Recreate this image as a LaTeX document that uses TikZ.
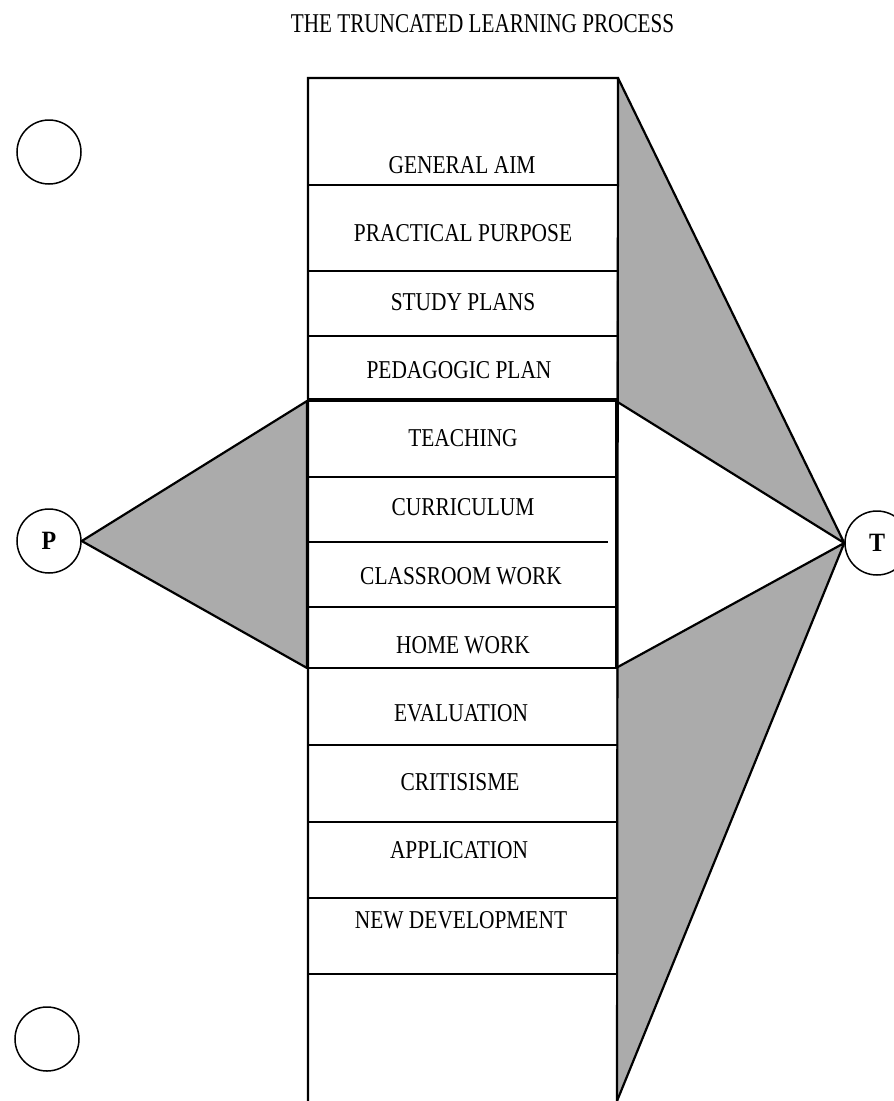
\documentclass[tikz,border=0pt]{standalone}
\usepackage{fontspec}
\setmainfont{Liberation Serif}
\usepackage{graphicx}
\newcommand{\vstr}[2]{\scalebox{1}[#1]{#2}}
\begin{document}
\begin{tikzpicture}[x=1pt,y=-1pt,
  lbl/.style={font=\fontsize{21.4}{22}\selectfont, inner sep=0pt},
  ttl/.style={font=\fontsize{21.2}{22}\selectfont, inner sep=0pt},
  rnd/.style={draw, circle, line width=1.5pt, minimum size=64pt, inner sep=0pt, font=\fontsize{24}{24}\selectfont\bfseries},
  edge/.style={line width=2.2pt},
  divider/.style={line width=1.4pt},
  shadefill/.style={fill=black!33},
  shade/.style={shadefill, draw=black, line width=2.2pt, line join=round}]
\useasboundingbox (0,0) rectangle (894,1101);

% title
\node[ttl] (title) at (482.5,24) {\vstr{1.28}{THE TRUNCATED LEARNING PROCESS}};

% circles
\node[rnd] (c1) at (49,152) {};
\node[rnd] (c2) at (47,1039) {};
\node[rnd] (P) at (49,541) {\vstr{1.1}{P}};
\node[rnd] (T) at (877,543) {\vstr{1.1}{T}};

% column corners
\coordinate (ctl) at (308,78);
\coordinate (ctr) at (618,78);
\coordinate (cbl) at (308,1101);
\coordinate (cbr) at (617,1101);
\coordinate (itl) at (307,401);
\coordinate (itr) at (616,401);
\coordinate (ibl) at (307,668);
\coordinate (ibr) at (616,668);

% shaded wedges
\path[shade] (P.east) -- (itl) -- (ibl) -- cycle;
\path[shadefill] (ctr) -- (T.west) -- (itr) -- cycle;
\path[shadefill] (ibr) -- (T.west) -- (cbr) -- cycle;
\draw[edge, line join=round] (ctr) -- (T.west) -- (itr);
\draw[edge, line join=round] (ibr) -- (T.west) -- (cbr);

% column
\draw[edge] (cbl) -- (ctl) -- (ctr) -- (cbr);
\draw[edge] (itl) rectangle (ibr);
\draw[edge] (308,399) -- (618,399);

% dividers
\foreach \yy in {185,271,336,477,607,745,822,898,974}
  \draw[divider] (308,\yy) -- (617,\yy);
\draw[divider] (308,542) -- (608,542);

% labels
\node[lbl] (l1) at (462,165) {\vstr{1.2}{GENERAL AIM}};
\node[lbl] (l2) at (463,233) {\vstr{1.2}{PRACTICAL PURPOSE}};
\node[lbl] (l3) at (463,302) {\vstr{1.2}{STUDY PLANS}};
\node[lbl] (l4) at (459,370) {\vstr{1.2}{PEDAGOGIC PLAN}};
\node[lbl] (l5) at (463,438) {\vstr{1.2}{TEACHING}};
\node[lbl] (l6) at (463,507) {\vstr{1.2}{CURRICULUM}};
\node[lbl] (l7) at (461,576) {\vstr{1.2}{CLASSROOM WORK}};
\node[lbl] (l8) at (463,645) {\vstr{1.2}{HOME WORK}};
\node[lbl] (l9) at (461,713) {\vstr{1.2}{EVALUATION}};
\node[lbl] (l10) at (460,782) {\vstr{1.2}{CRITISISME}};
\node[lbl] (l11) at (459,850) {\vstr{1.2}{APPLICATION}};
\node[lbl] (l12) at (461,920) {\vstr{1.2}{NEW DEVELOPMENT}};
\end{tikzpicture}
\end{document}
